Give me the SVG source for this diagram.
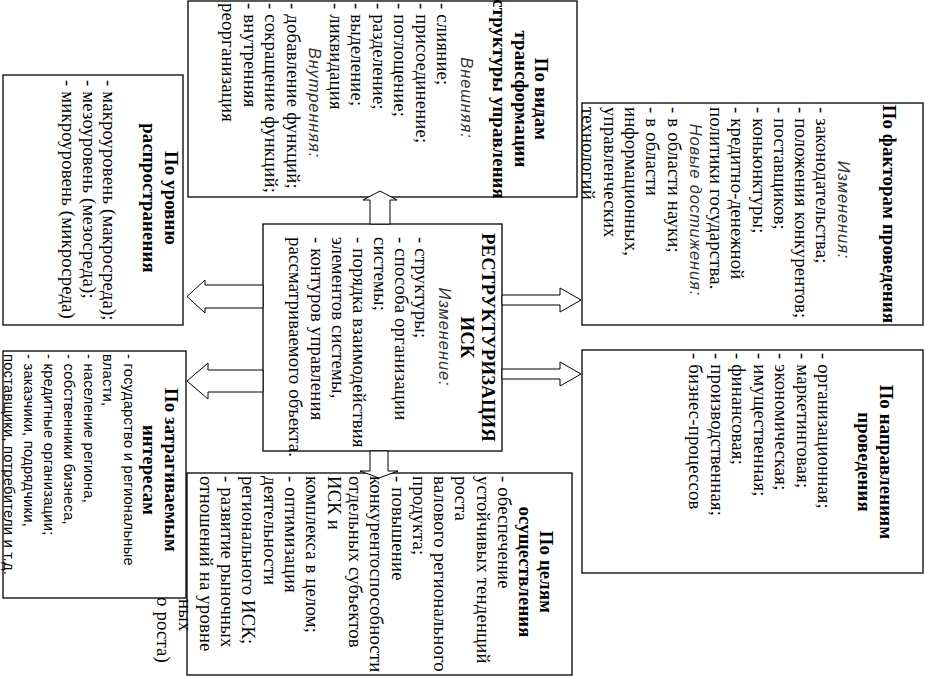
<svg xmlns="http://www.w3.org/2000/svg" width="925" height="676" viewBox="0 0 925 676">
<style>
.box{fill:#fff;stroke:#000;stroke-width:1.3}
.t{font-family:"Liberation Serif","Times New Roman",serif;font-size:18.67px;fill:#000;letter-spacing:0.2px}
.b{font-weight:bold;letter-spacing:0.2px}
.m{text-anchor:middle}
.i{font-family:"Liberation Sans",Arial,sans-serif;font-style:italic;font-size:16.5px;fill:#333;letter-spacing:0.9px}
.s{font-family:"Liberation Sans",Arial,sans-serif;font-size:14.7px;fill:#000;letter-spacing:0.25px}
.arrow{fill:#fff;stroke:#000;stroke-width:1}
</style>
<rect width="925" height="676" fill="#fff"/>

<g id="node-vidy">
<rect class="box" x="188" y="1" width="389" height="196"/>
<g transform="rotate(90)">
<text class="t b m" x="99" y="-535">По видам</text>
<text class="t b m" x="99" y="-515">трансформации</text>
<text class="t b m" x="99" y="-493">структуры управления</text>
<text class="i m" x="98" y="-461">Внешняя:</text>
<text class="t" x="3" y="-437">- слияние;</text>
<text class="t" x="3" y="-415.5">- присоединение;</text>
<text class="t" x="3" y="-394">- поглощение;</text>
<text class="t" x="3" y="-372.5">- разделение;</text>
<text class="t" x="3" y="-351">- выделение;</text>
<text class="t" x="3" y="-329.5">- ликвидация</text>
<text class="i m" x="103" y="-309">Внутренняя:</text>
<text class="t" x="3" y="-286.5">- добавление функций;</text>
<text class="t" x="3" y="-265">- сокращение функций;</text>
<text class="t" x="3" y="-243.5">- внутренняя</text>
<text class="t" x="3" y="-222">реорганизация</text>
</g>
</g>

<g id="node-uroven">
<rect class="box" x="3" y="75" width="180" height="250"/>
<g transform="rotate(90)">
<text class="t b m" x="198" y="-165">По уровню</text>
<text class="t b m" x="198" y="-143">распространения</text>
<text class="t" x="80" y="-103">- макроуровень (макросреда);</text>
<text class="t" x="80" y="-83">- мезоуровень (мезосреда);</text>
<text class="t" x="80" y="-62">- микроуровень (микросреда)</text>
</g>
</g>

<g id="node-faktory">
<rect class="box" x="582" y="103" width="341" height="222"/>
<g transform="rotate(90)">
<text class="t b m" x="214" y="-883">По факторам проведения</text>
<text class="i m" x="210" y="-838">Изменения:</text>
<text class="t" x="107" y="-816">- законодательства;</text>
<text class="t" x="107" y="-795">- положения конкурентов;</text>
<text class="t" x="107" y="-774">- поставщиков;</text>
<text class="t" x="107" y="-752.5">- коньюнктуры;</text>
<text class="t" x="107" y="-731">- кредитно-денежной</text>
<text class="t" x="107" y="-710">политики государства.</text>
<text class="i m" x="210" y="-690">Новые достижения:</text>
<text class="t" x="107" y="-667.5">- в области науки;</text>
<text class="t" x="107" y="-646">- в области</text>
<text class="t" x="107" y="-625">информационных,</text>
<text class="t" x="107" y="-603.5">управленческих</text>
<text class="t" x="107" y="-582">технологий</text>
</g>
</g>

<g id="node-center">
<rect class="box" x="263" y="224" width="239" height="227"/>
<g transform="rotate(90)">
<text class="t b m" x="337.5" y="-482">РЕСТРУКТУРИЗАЦИЯ</text>
<text class="t b m" x="337.5" y="-461">ИСК</text>
<text class="i m" x="337" y="-439">Изменение:</text>
<text class="t" x="237" y="-415">- структуры;</text>
<text class="t" x="237" y="-395">- способа организации</text>
<text class="t" x="237" y="-374">системы;</text>
<text class="t" x="237" y="-353">- порядка взаимодействия</text>
<text class="t" x="237" y="-332">элементов системы,</text>
<text class="t" x="237" y="-310.5">- контуров управления</text>
<text class="t" x="237" y="-289">рассматриваемого объекта.</text>
</g>
</g>

<g id="node-napravleniya">
<rect class="box" x="582" y="350" width="341" height="223"/>
<g transform="rotate(90)">
<text class="t b m" x="462" y="-880">По направлениям</text>
<text class="t b m" x="462" y="-858">проведения</text>
<text class="t" x="353" y="-818">- организационная;</text>
<text class="t" x="353" y="-796.5">- маркетинговая;</text>
<text class="t" x="353" y="-775">- экономическая;</text>
<text class="t" x="353" y="-753.5">- имущественная;</text>
<text class="t" x="353" y="-732">- финансовая;</text>
<text class="t" x="353" y="-710.5">- производственная;</text>
<text class="t" x="353" y="-689">- бизнес-процессов</text>
</g>
</g>

<g id="node-celi">
<rect class="box" x="187" y="473" width="385" height="202"/>
<g transform="rotate(90)">
<text class="t b m" x="572" y="-540">По целям</text>
<text class="t b m" x="572" y="-519">осуществления</text>
<text class="t" x="476" y="-498">- обеспечение</text>
<text class="t" x="476" y="-476.7">устойчивых тенденций</text>
<text class="t" x="476" y="-455.4">роста</text>
<text class="t" x="476" y="-434.1">валового регионального</text>
<text class="t" x="476" y="-412.8">продукта;</text>
<text class="t" x="476" y="-391.5">- повышение</text>
<text class="t" x="476" y="-370.2">конкурентоспособности</text>
<text class="t" x="476" y="-348.9">отдельных субъектов</text>
<text class="t" x="476" y="-327.6">ИСК и</text>
<text class="t" x="476" y="-306.3">комплекса в целом;</text>
<text class="t" x="476" y="-285">- оптимизация</text>
<text class="t" x="476" y="-263.7">деятельности</text>
<text class="t" x="476" y="-242.4">регионального ИСК;</text>
<text class="t" x="476" y="-221.1">- развитие рыночных</text>
<text class="t" x="476" y="-199.8">отношений на уровне</text>
<text class="t" x="599" y="-178.5">ных</text>
<text class="t" x="597" y="-157.2">о роста)</text>
</g>
</g>

<g id="node-interesy">
<rect class="box" x="3" y="351" width="183" height="247"/>
<g transform="rotate(90)">
<text class="t b m" x="470" y="-165">По затрагиваемым</text>
<text class="t b m" x="470" y="-143">интересам</text>
<text class="s" x="354" y="-124">- государство и региональные</text>
<text class="s" x="354" y="-103">власти,</text>
<text class="s" x="354" y="-84">- население региона,</text>
<text class="s" x="354" y="-64">- собственники бизнеса,</text>
<text class="s" x="354" y="-44">- кредитные организации;</text>
<text class="s" x="354" y="-24">- заказчики, подрядчики,</text>
<text class="s" x="354" y="-4">поставщики, потребители и т.д.</text>
</g>
</g>

<g id="connectors">
<polygon class="arrow" points="370,224 370,200 363,200 380,191 397,200 390,200 390,224"/>
<polygon class="arrow" points="370,451 370,471 360,471 379,478 398,471 388,471 388,451"/>
<polygon class="arrow" points="263,285 205,285 205,280 187,296.5 205,313 205,308 263,308"/>
<polygon class="arrow" points="263,370 208,370 208,363 187,381 208,399 208,392 263,392"/>
<polygon class="arrow" points="502,295 560,295 560,288 581,300 560,312 560,305 502,305"/>
<polygon class="arrow" points="502,369 560,369 560,362 581,374 560,386 560,379 502,379"/>
</g>
</svg>
